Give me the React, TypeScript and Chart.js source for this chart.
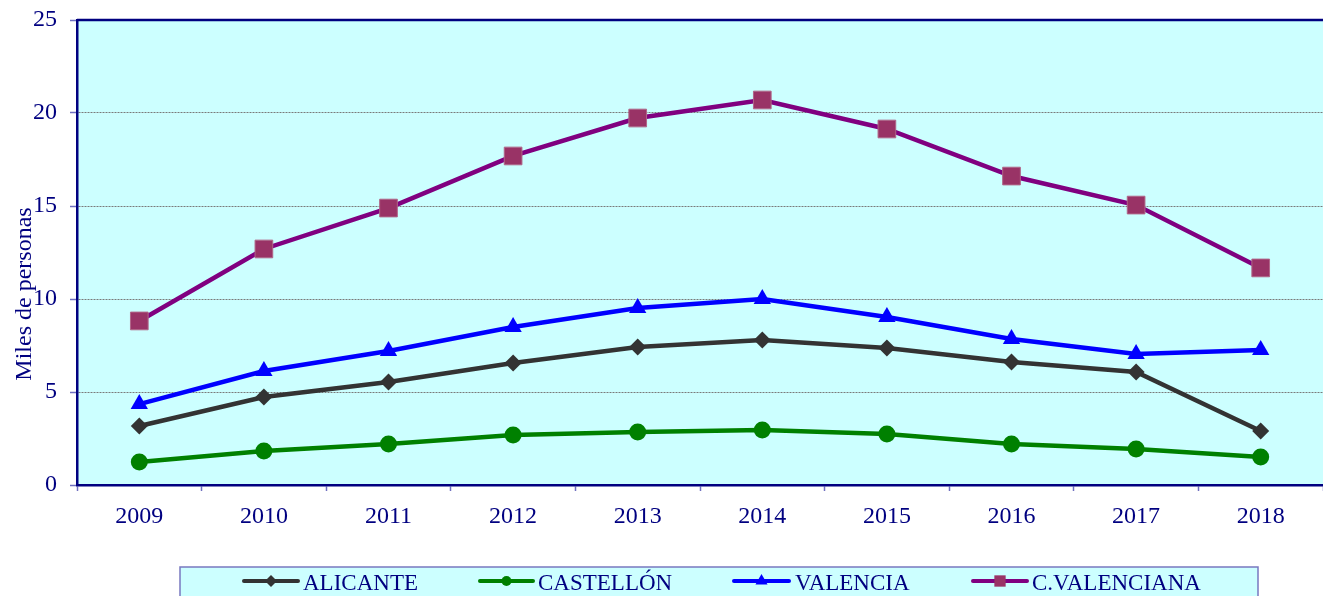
import React, { useEffect, useRef } from "react";
import { Chart, registerables } from "chart.js";

Chart.register(...registerables);

const years = ["2009", "2010", "2011", "2012", "2013", "2014", "2015", "2016", "2017", "2018"];
const alicante = [3.17, 4.73, 5.54, 6.56, 7.42, 7.8, 7.37, 6.61, 6.08, 2.9];
const castellon = [1.24, 1.83, 2.2, 2.69, 2.85, 2.96, 2.74, 2.2, 1.94, 1.5];
const valencia = [4.35, 6.13, 7.2, 8.49, 9.52, 10.0, 9.03, 7.85, 7.04, 7.26];
const cValenciana = [8.82, 12.69, 14.89, 17.69, 19.73, 20.7, 19.14, 16.61, 15.05, 11.67];
const seriesNames = ["ALICANTE", "CASTELLÓN", "VALENCIA", "C.VALENCIANA"];
const yAxisTitle = "Miles de personas";

const NAVY = "#000080";
const FONT = "'Liberation Serif', 'Times New Roman', serif";

function drawMarker(ctx: CanvasRenderingContext2D, style: string, x: number, y: number, r: number) {
  ctx.beginPath();
  if (style === "rectRot") {
    ctx.moveTo(x - r, y);
    ctx.lineTo(x, y - r);
    ctx.lineTo(x + r, y);
    ctx.lineTo(x, y + r);
    ctx.closePath();
  } else if (style === "circle") {
    ctx.arc(x, y, r, 0, Math.PI * 2);
  } else if (style === "triangle") {
    ctx.moveTo(x, y - r);
    ctx.lineTo(x + r * 0.866, y + r * 0.5);
    ctx.lineTo(x - r * 0.866, y + r * 0.5);
    ctx.closePath();
  } else {
    const s = r * Math.SQRT1_2;
    ctx.rect(x - s, y - s, 2 * s, 2 * s);
  }
  ctx.fill();
}

const frameAndLegend = {
  id: "frameAndLegend",
  beforeDraw(chart: any) {
    const { ctx, chartArea } = chart;
    ctx.save();
    ctx.fillStyle = "#ffffff";
    ctx.fillRect(0, 0, chart.width, chart.height);
    ctx.fillStyle = "#CCFFFF";
    ctx.fillRect(chartArea.left, chartArea.top, chartArea.right - chartArea.left, chartArea.bottom - chartArea.top);
    ctx.restore();
  },
  afterDraw(chart: any) {
    const { ctx, chartArea } = chart;
    ctx.save();
    ctx.strokeStyle = NAVY;
    ctx.lineWidth = 2.5;
    ctx.beginPath();
    ctx.moveTo(chartArea.left, chartArea.top);
    ctx.lineTo(chartArea.right, chartArea.top);
    ctx.stroke();

    ctx.fillStyle = NAVY;
    ctx.font = `24px ${FONT}`;
    ctx.textAlign = "center";
    ctx.textBaseline = "alphabetic";
    ctx.save();
    ctx.translate(31, 294);
    ctx.rotate(-Math.PI / 2);
    ctx.fillText(yAxisTitle, 0, 0);
    ctx.restore();

    ctx.fillStyle = "#CCFFFF";
    ctx.fillRect(180, 567, 1078, 40);
    ctx.strokeStyle = "#7878c0";
    ctx.lineWidth = 1.5;
    ctx.strokeRect(180, 567, 1078, 40);

    const items = [
      { l0: 244, l1: 298, tx: 303, r: 6 },
      { l0: 480, l1: 533, tx: 538, r: 5 },
      { l0: 734, l1: 789, tx: 795, r: 7 },
      { l0: 973, l1: 1027, tx: 1032, r: 8 },
    ];
    const ly = 581;
    chart.data.datasets.forEach((ds: any, i: number) => {
      const it = items[i];
      ctx.strokeStyle = ds.borderColor;
      ctx.lineWidth = 4;
      ctx.lineCap = "round";
      ctx.beginPath();
      ctx.moveTo(it.l0, ly);
      ctx.lineTo(it.l1, ly);
      ctx.stroke();
      ctx.fillStyle = ds.pointBackgroundColor;
      drawMarker(ctx, ds.pointStyle, (it.l0 + it.l1) / 2, ly, it.r);
      ctx.fillStyle = NAVY;
      ctx.font = `23px ${FONT}`;
      ctx.textAlign = "left";
      ctx.textBaseline = "alphabetic";
      ctx.fillText(seriesNames[i], it.tx, 590);
    });
    ctx.restore();
  },
};

export default function App() {
  const ref = useRef<HTMLCanvasElement | null>(null);
  useEffect(() => {
    if (!ref.current) return;
    const chart = new Chart(ref.current, {
      type: "line",
      data: {
        labels: years,
        datasets: [
          {
            label: seriesNames[0],
            data: alicante,
            borderColor: "#333333",
            backgroundColor: "#333333",
            pointBackgroundColor: "#333333",
            pointBorderColor: "#333333",
            pointStyle: "rectRot",
            pointRadius: 8.5,
            pointBorderWidth: 0,
            borderWidth: 4.5,
          },
          {
            label: seriesNames[1],
            data: castellon,
            borderColor: "#008000",
            backgroundColor: "#008000",
            pointBackgroundColor: "#008000",
            pointBorderColor: "#008000",
            pointStyle: "circle",
            pointRadius: 8.5,
            pointBorderWidth: 0,
            borderWidth: 4.5,
          },
          {
            label: seriesNames[2],
            data: valencia,
            borderColor: "#0000FF",
            backgroundColor: "#0000FF",
            pointBackgroundColor: "#0000FF",
            pointBorderColor: "#0000FF",
            pointStyle: "triangle",
            pointRadius: 10,
            pointBorderWidth: 0,
            borderWidth: 4.5,
          },
          {
            label: seriesNames[3],
            data: cValenciana,
            borderColor: "#800080",
            backgroundColor: "#993366",
            pointBackgroundColor: "#993366",
            pointBorderColor: "#b06688",
            pointStyle: "rect",
            pointRadius: 12.5,
            pointBorderWidth: 1,
            borderWidth: 4.5,
          },
        ],
      },
      options: {
        animation: false,
        responsive: false,
        devicePixelRatio: 1,
        layout: { autoPadding: false, padding: { top: 20, left: 0, right: 0, bottom: 0 } },
        plugins: { legend: { display: false }, tooltip: { enabled: false } },
        scales: {
          x: {
            offset: true,
            grid: {
              offset: true,
              drawOnChartArea: false,
              drawTicks: true,
              tickLength: 6,
              tickColor: "#7070c0",
              tickWidth: 1.5,
            },
            border: { display: true, color: NAVY, width: 2.5 },
            ticks: {
              color: NAVY,
              font: { family: FONT, size: 24 },
              padding: 11,
              maxRotation: 0,
              autoSkip: false,
            },
            afterFit: (scale: any) => {
              scale.height = 111;
              scale.paddingLeft = 0;
              scale.paddingRight = 0;
            },
          },
          y: {
            min: 0,
            max: 25,
            grid: {
              color: (c: any) => (c.tick && (c.tick.value === 0 || c.tick.value === 25) ? "rgba(0,0,0,0)" : "#7a7a7a"),
              lineWidth: 1,
              drawTicks: true,
              tickLength: 7,
              tickColor: "#7070c0",
              tickWidth: 1.5,
              tickBorderDash: [],
            },
            border: { display: true, color: NAVY, width: 2.5, dash: [2, 1] },
            ticks: {
              stepSize: 5,
              color: NAVY,
              font: { family: FONT, size: 24 },
              padding: 13,
            },
            afterFit: (scale: any) => {
              scale.width = 77;
              scale.paddingTop = 0;
              scale.paddingBottom = 0;
            },
          },
        },
      },
      plugins: [frameAndLegend],
    });
    return () => chart.destroy();
  }, []);
  return (
    <div style={{ position: "absolute", left: 0, top: 0, width: 1323, height: 596, background: "#fff" }}>
      <canvas ref={ref} width={1323} height={596} style={{ display: "block", width: 1323, height: 596 }} />
    </div>
  );
}
